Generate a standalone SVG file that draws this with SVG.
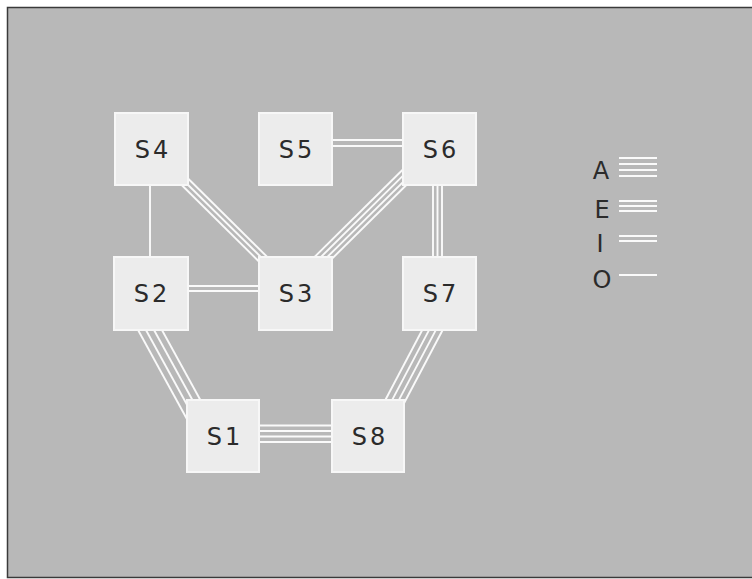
<svg xmlns="http://www.w3.org/2000/svg" width="752" height="579" viewBox="0 0 752 579">
<style>
.bg{fill:#b8b8b8;stroke:#3a3a3a;stroke-width:1.5}
.box{fill:#ececec;stroke:#f7f7f7;stroke-width:2}
.lbl{font-family:"DejaVu Sans","Liberation Sans",sans-serif;font-size:24px;fill:#2b2b2b;text-anchor:middle;letter-spacing:3px}
.lg{font-family:"DejaVu Sans","Liberation Sans",sans-serif;font-size:24px;fill:#2b2b2b;text-anchor:middle}
.c line{stroke:#fafafa;stroke-width:1.9;fill:none}
</style>
<rect width="752" height="579" fill="#ffffff"/>
<rect class="bg" x="7.5" y="7.5" width="760" height="570"/>
<g id="connectors" class="c">
  <g id="S4-S2"><line x1="150" y1="180" x2="150" y2="262"/></g>
  <g id="S4-S3">
    <line x1="171.8" y1="175.2" x2="271.8" y2="274.2"/>
    <line x1="175" y1="172" x2="275" y2="271"/>
    <line x1="178.2" y1="168.8" x2="278.2" y2="267.8"/>
  </g>
  <g id="S2-S3">
    <line x1="183" y1="286" x2="263" y2="286"/>
    <line x1="183" y1="291" x2="263" y2="291"/>
  </g>
  <g id="S5-S6">
    <line x1="328" y1="140" x2="408" y2="140"/>
    <line x1="328" y1="146" x2="408" y2="146"/>
  </g>
  <g id="S3-S6">
    <line x1="309.23" y1="262.23" x2="409.23" y2="163.23"/>
    <line x1="312.41" y1="265.41" x2="412.41" y2="166.41"/>
    <line x1="315.59" y1="268.59" x2="415.59" y2="169.59"/>
    <line x1="318.77" y1="271.77" x2="418.77" y2="172.77"/>
  </g>
  <g id="S6-S7">
    <line x1="433" y1="180" x2="433" y2="262"/>
    <line x1="437.5" y1="180" x2="437.5" y2="262"/>
    <line x1="442" y1="180" x2="442" y2="262"/>
  </g>
  <g id="S2-S1">
    <line x1="134.2" y1="323.05" x2="188" y2="421.05"/>
    <line x1="140.33" y1="319.68" x2="194.13" y2="417.68"/>
    <line x1="146.47" y1="316.32" x2="200.27" y2="414.32"/>
    <line x1="152.6" y1="312.95" x2="206.4" y2="410.95"/>
  </g>
  <g id="S7-S8">
    <line x1="430.84" y1="313.8" x2="381.24" y2="407.8"/>
    <line x1="436.15" y1="316.6" x2="386.55" y2="410.6"/>
    <line x1="441.45" y1="319.4" x2="391.85" y2="413.4"/>
    <line x1="446.76" y1="322.2" x2="397.16" y2="416.2"/>
  </g>
  <g id="S1-S8">
    <line x1="255" y1="425.5" x2="336" y2="425.5"/>
    <line x1="255" y1="431" x2="336" y2="431"/>
    <line x1="255" y1="436.5" x2="336" y2="436.5"/>
    <line x1="255" y1="442" x2="336" y2="442"/>
  </g>
</g>
<g id="S4"><rect class="box" x="115" y="113" width="73" height="72"/><text class="lbl" x="153" y="158">S4</text></g>
<g id="S5"><rect class="box" x="259" y="113" width="73" height="72"/><text class="lbl" x="297" y="158">S5</text></g>
<g id="S6"><rect class="box" x="403" y="113" width="73" height="72"/><text class="lbl" x="441" y="158">S6</text></g>
<g id="S2"><rect class="box" x="114" y="257" width="74" height="73"/><text class="lbl" x="152" y="302">S2</text></g>
<g id="S3"><rect class="box" x="259" y="257" width="73" height="73"/><text class="lbl" x="297" y="302">S3</text></g>
<g id="S7"><rect class="box" x="403" y="257" width="73" height="73"/><text class="lbl" x="441" y="302">S7</text></g>
<g id="S1"><rect class="box" x="187" y="400" width="72" height="72"/><text class="lbl" x="225" y="445">S1</text></g>
<g id="S8"><rect class="box" x="332" y="400" width="72" height="72"/><text class="lbl" x="370" y="445">S8</text></g>
<g id="legend" class="c">
  <text class="lg" x="601" y="179">A</text>
  <line x1="619" y1="158" x2="657" y2="158"/>
  <line x1="619" y1="164" x2="657" y2="164"/>
  <line x1="619" y1="170" x2="657" y2="170"/>
  <line x1="619" y1="176" x2="657" y2="176"/>
  <text class="lg" x="602" y="218">E</text>
  <line x1="619" y1="201" x2="657" y2="201"/>
  <line x1="619" y1="206" x2="657" y2="206"/>
  <line x1="619" y1="211" x2="657" y2="211"/>
  <text class="lg" x="600" y="252">I</text>
  <line x1="619" y1="236" x2="657" y2="236"/>
  <line x1="619" y1="241" x2="657" y2="241"/>
  <text class="lg" x="602" y="288">O</text>
  <line x1="619" y1="275" x2="657" y2="275"/>
</g>
</svg>
